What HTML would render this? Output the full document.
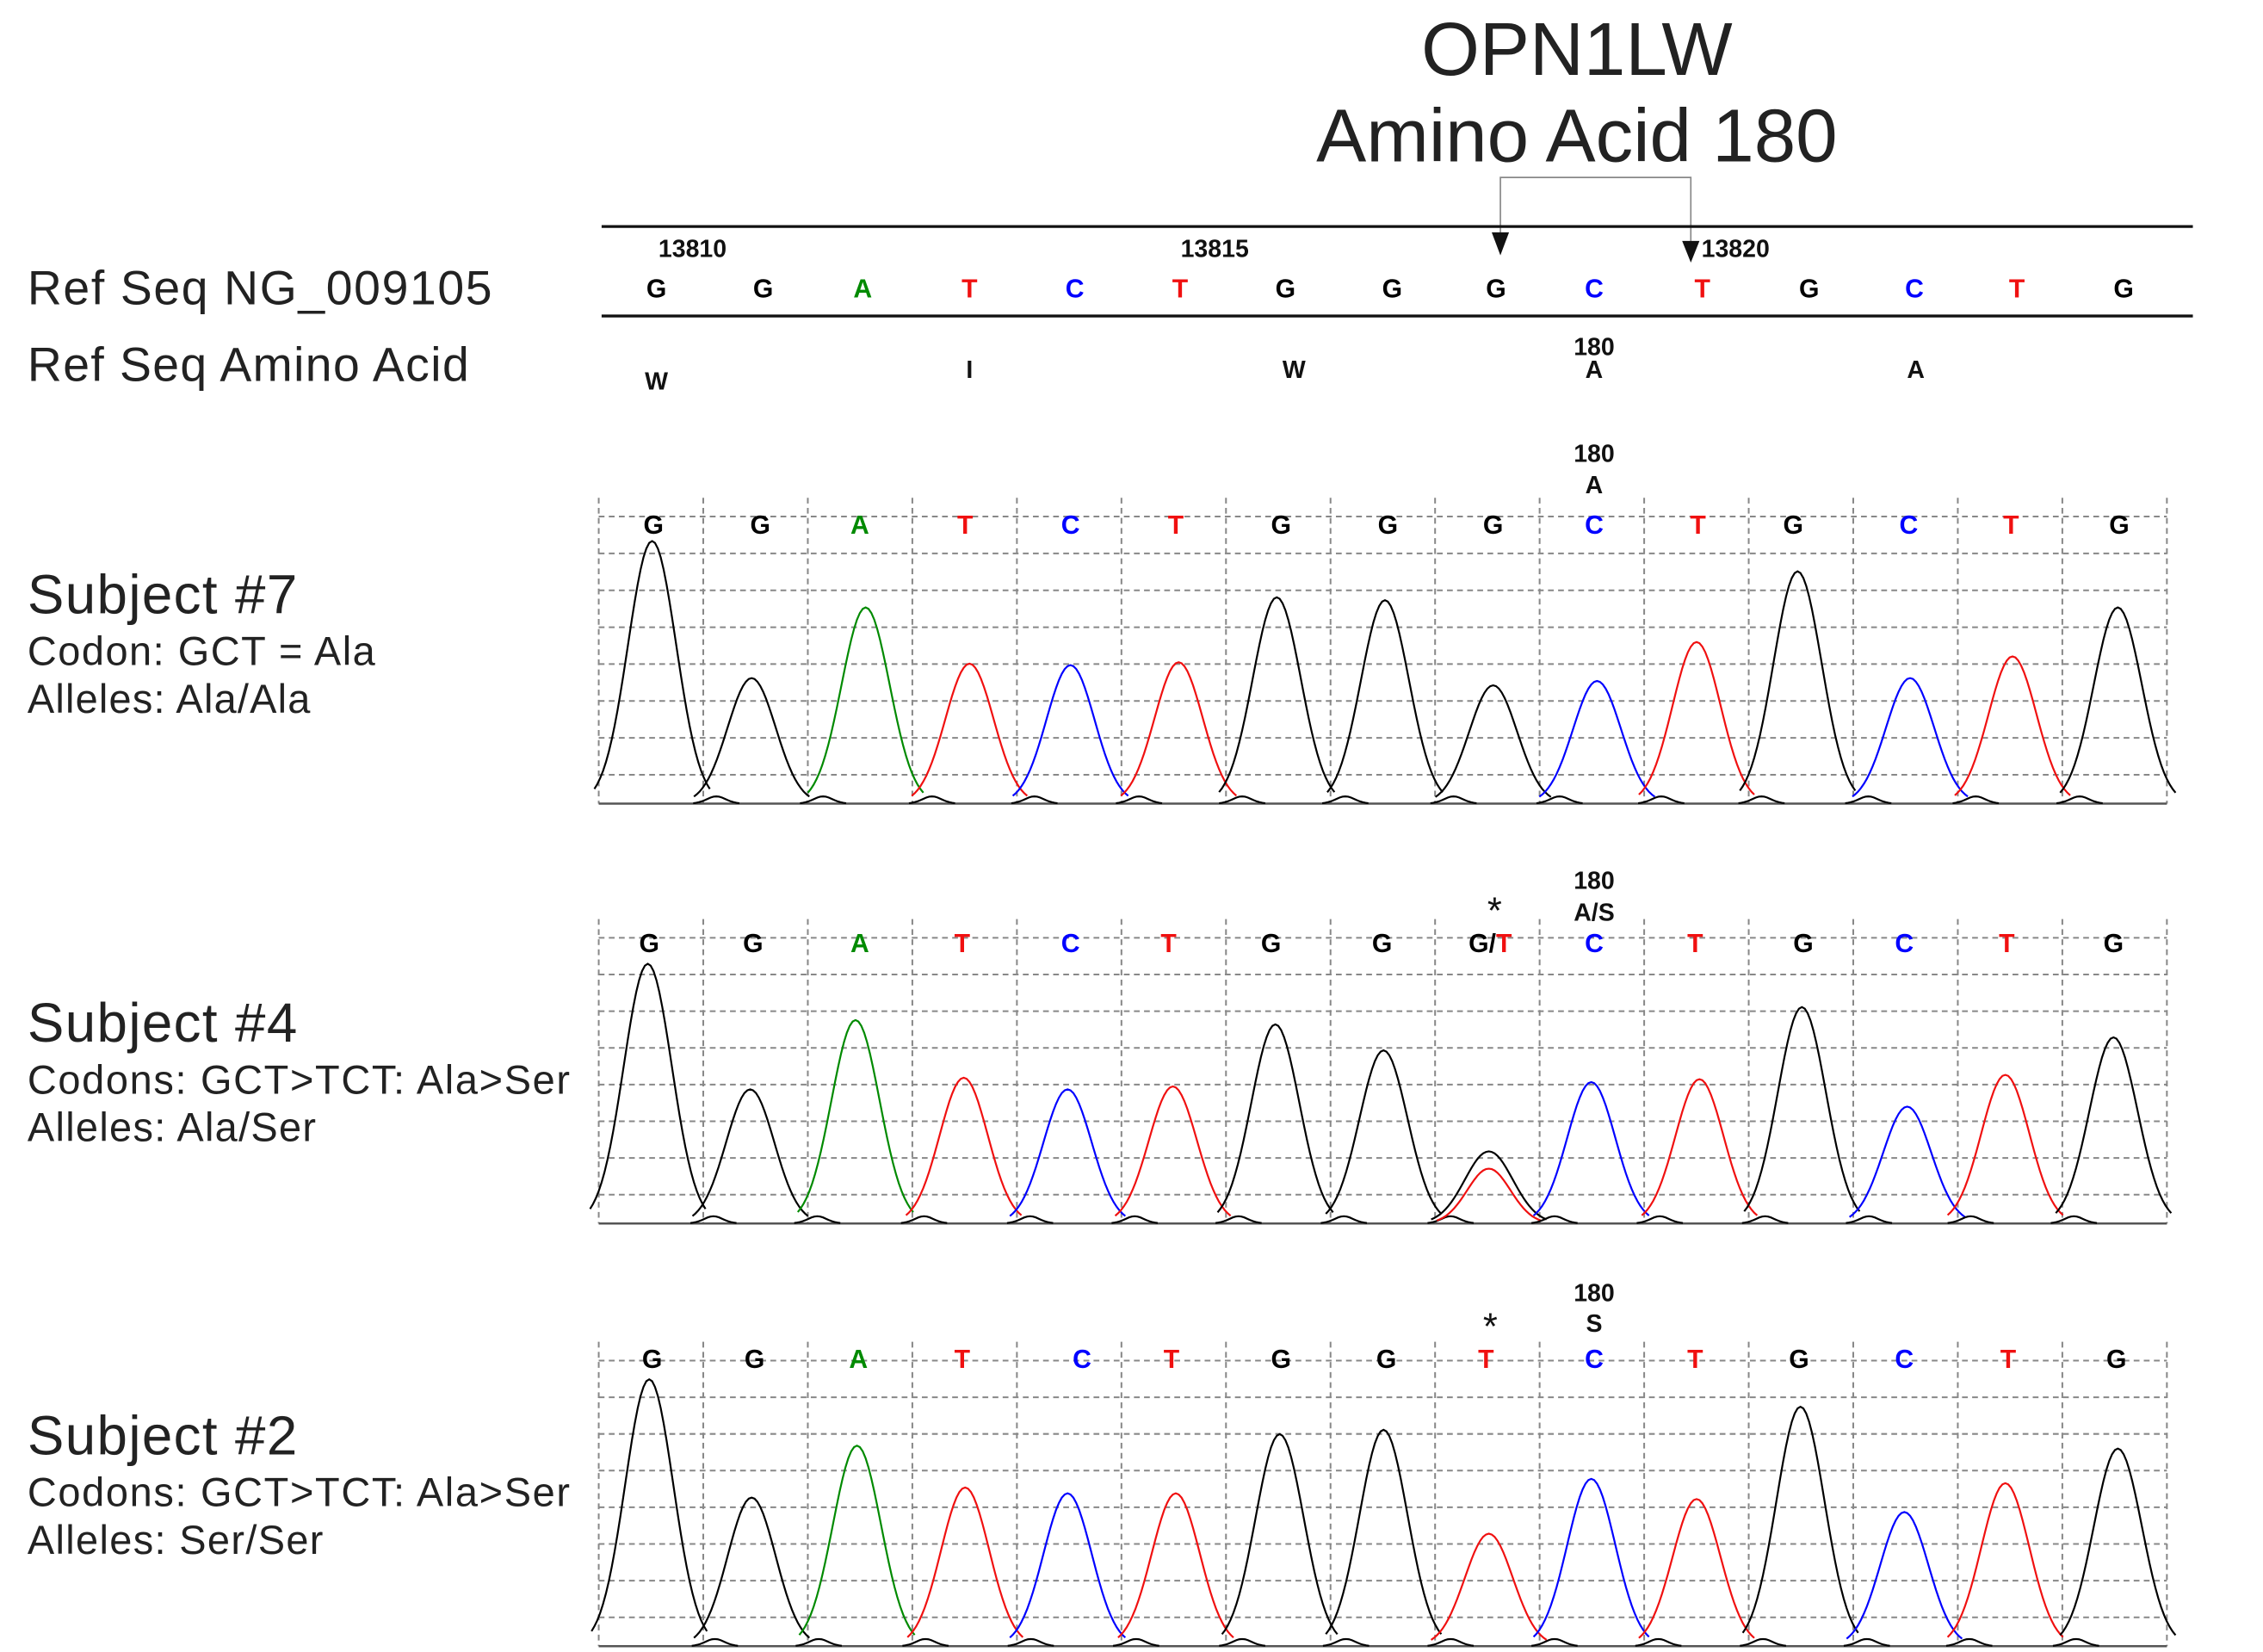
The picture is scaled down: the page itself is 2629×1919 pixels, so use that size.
<!DOCTYPE html>
<html><head><meta charset="utf-8"><style>
html,body{margin:0;padding:0;background:#fff;}
svg{display:block;}
text{font-family:"Liberation Sans",sans-serif;}
</style></head><body>
<svg id="chart" width="2629" height="1919" viewBox="0 0 1568.6 1145" xmlns="http://www.w3.org/2000/svg">
<g>
<text x="1093" y="52" font-size="52" text-anchor="middle" fill="#222">OPN1LW</text>
<text x="1093" y="112" font-size="52" text-anchor="middle" fill="#222">Amino Acid 180</text>
</g>
<g stroke="#888" fill="none" stroke-width="1">
<polyline points="1040,165 1040,123 1172,123 1172,168"/>
</g>
<polygon points="1034,161 1046,161 1040,177" fill="#111"/>
<polygon points="1166,167 1178,167 1172,182" fill="#111"/>
<line x1="417" y1="157" x2="1520" y2="157" stroke="#111" stroke-width="2"/>
<line x1="417" y1="219" x2="1520" y2="219" stroke="#111" stroke-width="2"/>
<g fill="#222">
<text x="19" y="211" font-size="33" textLength="322">Ref Seq NG_009105</text>
<text x="19" y="264" font-size="33" textLength="306">Ref Seq Amino Acid</text>
<text x="19" y="425" font-size="38" textLength="187">Subject #7</text>
<text x="19" y="461" font-size="28" textLength="241">Codon: GCT = Ala</text>
<text x="19" y="494" font-size="28" textLength="196">Alleles: Ala/Ala</text>
<text x="19" y="722" font-size="38" textLength="187">Subject #4</text>
<text x="19" y="758" font-size="28" textLength="376">Codons: GCT&gt;TCT: Ala&gt;Ser</text>
<text x="19" y="791" font-size="28" textLength="200">Alleles: Ala/Ser</text>
<text x="19" y="1008" font-size="38" textLength="187">Subject #2</text>
<text x="19" y="1044" font-size="28" textLength="376">Codons: GCT&gt;TCT: Ala&gt;Ser</text>
<text x="19" y="1077" font-size="28" textLength="205">Alleles: Ser/Ser</text>
</g>
<g id="refseq"></g>
<g id="panels"></g>
</svg>
<script>
const NS='http://www.w3.org/2000/svg';
const refBases=['G','G','A','T','C','T','G','G','G','C','T','G','C','T','G'];
const refX=[455,529,598,672,745,818,891,965,1037,1105,1180,1254,1327,1398,1472];
const posLabels=['13810','13815','13820'];
const posX=[480,842,1203];
const aaLabels=['W','I','W','A','A'];
const aaX=[455,672,897,1105,1328];
const aaY=[270,262,262,262,262];

const p1Bases=['G','G','A','T','C','T','G','G','G','C','T','G','C','T','G'];
const p1LabelX=[453,527,596,669,742,815,888,962,1035,1105,1177,1243,1323,1394,1469];
const p1PeakX=[452,521,600,672,742,817,885,960,1035,1107,1176,1246,1324,1395,1468];
const p1Heights=[182,87,136,97,96,98,143,141,82,85,112,161,87,102,136];

const p2Bases=['G','G','A','T','C','T','G','G','G/T','C','T','G','C','T','G'];
const p2LabelX=[450,522,596,667,742,810,881,958,1033,1105,1175,1250,1320,1391,1465];
const p2PeakX=[449,520,593,668,740,813,884,959,1032,1103,1178,1249,1322,1390,1465];
const p2Heights=[180,93,141,101,93,95,138,120,50,98,100,150,81,103,129];
const p2SecondaryHeights=[0,0,0,0,0,0,0,0,38,0,0,0,0,0,0];

const p3Bases=['G','G','A','T','C','T','G','G','T','C','T','G','C','T','G'];
const p3LabelX=[452,523,595,667,750,812,888,961,1030,1105,1175,1247,1320,1392,1467];
const p3PeakX=[450,521,594,669,740,815,887,959,1032,1103,1176,1248,1320,1390,1468];
const p3Heights=[185,103,139,110,106,106,147,150,78,116,102,166,93,113,137];

const colors={G:'#000',A:'#008a00',T:'#f01010',C:'#0000ff'};
function el(tag,attrs,parent){const e=document.createElementNS(NS,tag);for(const k in attrs)e.setAttribute(k,attrs[k]);parent.appendChild(e);return e;}

const ref=document.getElementById('refseq');
refBases.forEach((b,i)=>{const t=el('text',{x:refX[i],y:206,'font-size':18,'font-weight':'bold','text-anchor':'middle',fill:colors[b]},ref);t.textContent=b;

});
posLabels.forEach((p,i)=>{const t=el('text',{x:posX[i],y:178,'font-size':17,'font-weight':'bold','text-anchor':'middle',fill:'#111'},ref);t.textContent=p;

});
aaLabels.forEach((a,i)=>{const t=el('text',{x:aaX[i],y:aaY[i],'font-size':17,'font-weight':'bold','text-anchor':'middle',fill:'#111'},ref);t.textContent=a;

});
{const t=el('text',{x:1105,y:246,'font-size':17,'font-weight':'bold','text-anchor':'middle',fill:'#111'},ref);t.textContent='180';

}

const panels=[
 {top:345,base:557,labelY:370,bases:p1Bases,lx:p1LabelX,px:p1PeakX,h:p1Heights,sec:null,ann:['180','A'],annY:[320,342],star:null},
 {top:637,base:848,labelY:660,bases:p2Bases,lx:p2LabelX,px:p2PeakX,h:p2Heights,sec:p2SecondaryHeights,ann:['180','A/S'],annY:[616,638],star:[1036,640]},
 {top:930,base:1141,labelY:948,bases:p3Bases,lx:p3LabelX,px:p3PeakX,h:p3Heights,sec:null,ann:['180','S'],annY:[902,923],star:[1033,928]}
];
const gx0=415,gx1=1502,ncol=15;
const pg=document.getElementById('panels');
panels.forEach((P,pi)=>{
 const g=el('g',{},pg);
 
 
 const yS=v=>P.base-v;
 // grid
 const grid=el('g',{stroke:'#888','stroke-width':1.2,'stroke-dasharray':'4,3',fill:'none'},g);
 
 
 for(let i=0;i<=ncol;i++){const x=gx0+(gx1-gx0)*i/ncol;el('line',{x1:x,y1:P.top,x2:x,y2:P.base},grid);}
 const nh=8;for(let j=0;j<nh;j++){const y=P.top+13+(P.base-20-(P.top+13))*j/(nh-1);el('line',{x1:gx0,y1:y,x2:gx1,y2:y},grid);}
 el('line',{x1:gx0,y1:P.base,x2:gx1,y2:P.base,stroke:'#555','stroke-width':1.5},g);
 // labels
 P.bases.forEach((b,i)=>{
  const t=el('text',{x:P.lx[i],y:P.labelY,'font-size':18,'font-weight':'bold','text-anchor':'middle'},g);
  
  
  if(b.length>1){const a=el('tspan',{fill:colors[b[0]]},t);a.textContent=b[0]+'/';const c=el('tspan',{fill:colors[b[2]]},t);c.textContent=b[2];}
  else{t.setAttribute('fill',colors[b]);t.textContent=b;}
 });
 P.ann.forEach((a,i)=>{const t=el('text',{x:1105,y:P.annY[i],'font-size':17,'font-weight':'bold','text-anchor':'middle',fill:'#111'},g);t.textContent=a;
  
  });
 if(P.star){const t=el('text',{x:P.star[0],y:P.star[1],'font-size':26,'text-anchor':'middle',fill:'#111'},g);t.textContent='*';
  
  }
 // peaks
 const peak=(cx,hgt,color,w)=>{
  let d='';for(let k=-w;k<=w;k+=2){const v=hgt*Math.exp(-(k*k)/(2*(w/2.4)*(w/2.4)));d+=(d?'L':'M')+(cx+k).toFixed(1)+','+yS(v).toFixed(1);}
  const p=el('path',{d:d,fill:'none',stroke:color,'stroke-width':1.3},g);
  
  
 };
 P.bases.forEach((b,i)=>{
  const c0=b.length>1?b[0]:b;
  peak(P.px[i],P.h[i],colors[c0],40);
  if(P.sec&&P.sec[i]>0)peak(P.px[i],P.sec[i],colors[b[2]],36);
  // small background bump
  if(i<P.bases.length-1){peak((P.px[i]+P.px[i+1])/2+10,5,'#000',16);}
 });
});
</script>
</body></html>
